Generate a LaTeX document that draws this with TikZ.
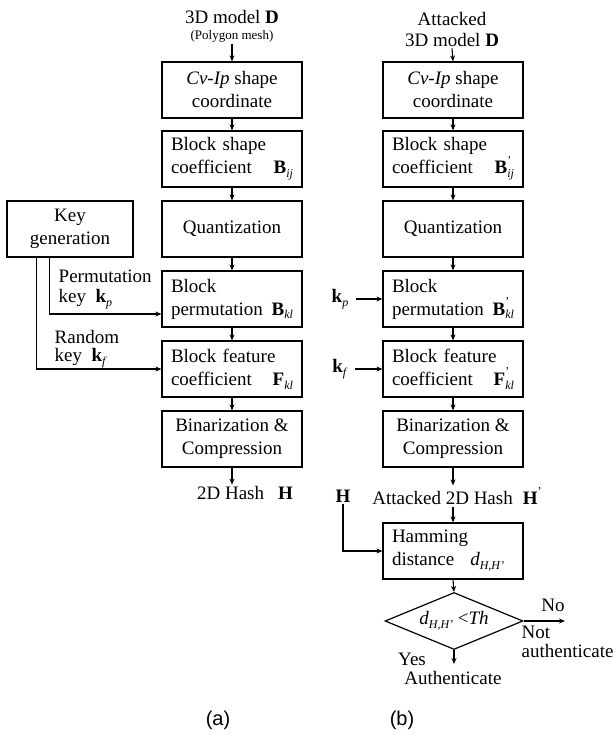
\documentclass[tikz,border=0pt]{standalone}
\usepackage{fontspec}
\setmainfont{Liberation Serif}
\newfontfamily\labfont{Liberation Sans}
\usetikzlibrary{shapes.geometric,arrows.meta}
\newcommand\lsub[1]{\raisebox{-0.45ex}{\fontsize{12}{12}\selectfont\textit{#1}}}
\newcommand\prm{\rlap{\raisebox{1.1ex}{\fontsize{12}{12}\selectfont '}}}
\begin{document}
\begin{tikzpicture}[x=1pt,y=-1pt,
  every node/.style={font=\fontsize{19}{23}\selectfont, inner sep=1.5pt},
  box/.style={draw, line width=1.2pt, minimum width=140pt, minimum height=56pt, align=center, inner sep=0pt},
  lbox/.style={box, text width=122pt, align=left},
  arr/.style={line width=1.1pt, -{Stealth[length=6pt,width=5pt]}},
  ln/.style={line width=1.1pt}]
\fill[white] (0,0) rectangle (613,735);
\useasboundingbox (0,0) rectangle (613,735);

% ---- column (a)
\node (ta) at (232,17) {3D model \textbf{D}};
\node[font=\fontsize{13}{15}\selectfont] (pm) at (232,36) {(Polygon mesh)};
\node[box] (a1) at (232,90) {\textit{Cv-Ip} shape\\coordinate};
\node[lbox] (a2) at (232,159) {Block shape\\coefficient\hfill\textbf{B}\lsub{ij}};
\node[box] (a3) at (232,229) {Quantization};
\node[lbox] (a4) at (232,299) {Block\\permutation\hfill\textbf{B}\lsub{kl}};
\node[lbox] (a5) at (232,369) {Block feature\\coefficient\hfill\textbf{F}\lsub{kl}};
\node[box] (a6) at (232,439) {Binarization \&\\Compression};
\node (ha) at (245,493) {2D Hash\hspace{14pt}\textbf{H}};

\draw[arr] (pm.south) -- (a1.north);
\draw[arr] (a1.south) -- (a2.north);
\draw[arr] (a2.south) -- (a3.north);
\draw[arr] (a3.south) -- (a4.north);
\draw[arr] (a4.south) -- (a5.north);
\draw[arr] (a5.south) -- (a6.north);
\draw[arr] (a6.south) -- (a6.south |- ha.north);

% ---- key generation
\node[box, minimum width=126pt] (kg) at (70,229) {Key\\generation};
\draw[arr] ([xshift=30pt]kg.south west) |- (a5.west);
\draw[arr] ([xshift=43pt]kg.south west) |- ([yshift=-15pt]a4.west);
\node[anchor=west] (pl1) at (57,276) {Permutation};
\node[anchor=west] (pl2) at (57,299) {key \ \textbf{k}\lsub{p}};
\node[anchor=west] (rl1) at (53,337) {Random};
\node[anchor=west] (rl2) at (53,358) {key \ \textbf{k}\lsub{f}};

% ---- column (b)
\node (tb1) at (452,19) {Attacked};
\node (tb2) at (452,40) {3D model \textbf{D}};
\node[box] (b1) at (453,90) {\textit{Cv-Ip} shape\\coordinate};
\node[lbox] (b2) at (453,159) {Block shape\\coefficient\hfill\textbf{B}\prm\lsub{ij}};
\node[box] (b3) at (453,229) {Quantization};
\node[lbox] (b4) at (453,299) {Block\\permutation\hfill\textbf{B}\prm\lsub{kl}};
\node[lbox] (b5) at (453,369) {Block feature\\coefficient\hfill\textbf{F}\prm\lsub{kl}};
\node[box] (b6) at (453,439) {Binarization \&\\Compression};
\node (hb) at (455,496) {Attacked 2D Hash\hspace{10pt}\textbf{H}\prm};
\node[lbox] (ham) at (453,551) {Hamming\\distance\hspace{16pt}\textit{d}\lsub{H,H'}};
\node[draw, diamond, line width=1.2pt, minimum width=138pt, minimum height=57pt, inner sep=0pt, aspect=2.4] (dm) at (454,621) {\textit{d}\lsub{H,H'} <\textit{Th}};

\draw[arr] (tb2.south) -- (b1.north);
\draw[arr] (b1.south) -- (b2.north);
\draw[arr] (b2.south) -- (b3.north);
\draw[arr] (b3.south) -- (b4.north);
\draw[arr] (b4.south) -- (b5.north);
\draw[arr] (b5.south) -- (b6.north);
\draw[arr] (b6.south) -- (b6.south |- hb.north);
\draw[arr] (b6.south |- hb.south) -- (ham.north);
\draw[arr] (ham.south) -- (dm.north);

\node (kp) at (340,299) {\textbf{k}\lsub{p}};
\node (kf) at (340,369) {\textbf{k}\lsub{f}};
\draw[arr] ([xshift=6pt]b4.west -| kp.east) -- (b4.west);
\draw[arr] ([xshift=6pt]b5.west -| kf.east) -- (b5.west);

\node (hh) at (343,496) {\textbf{H}};
\draw[arr] (hh.south) |- (ham.west);

\coordinate (noend) at (565,621);
\draw[arr] (dm.east) -- (noend);
\node (no) at (553,605) {No};
\node[anchor=west, align=left, font=\fontsize{19}{19}\selectfont] (nat) at (520,642) {Not\\authenticate};
\coordinate (yesend) at (454,664);
\draw[arr] (dm.south) -- (yesend);
\node (yes) at (412,659) {Yes};
\node (auth) at (453,678) {Authenticate};

% ---- sub-figure labels
\node[font=\labfont\fontsize{20}{24}\selectfont] (la) at (218,720) {(a)};
\node[font=\labfont\fontsize{20}{24}\selectfont] (lb) at (402,720) {(b)};
\end{tikzpicture}
\end{document}
